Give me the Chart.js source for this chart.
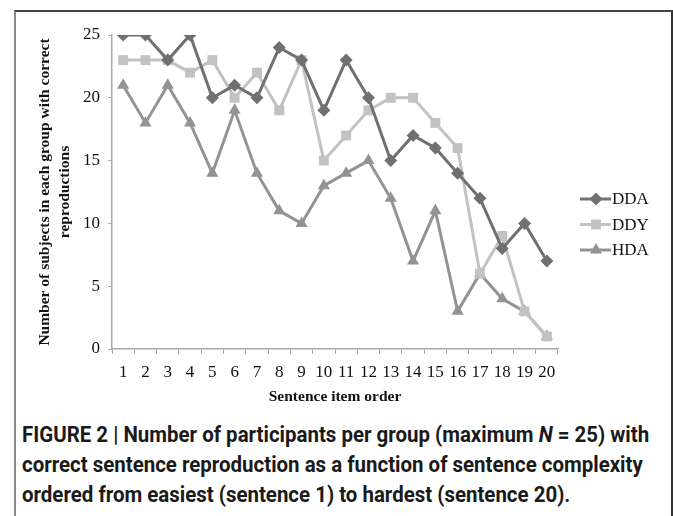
<!doctype html>
<html lang="en">
<head>
    <meta charset="UTF-8">
    <script src="https://cdn.jsdelivr.net/npm/chart.js"></script>
    <title>Figure 2</title>
    <style>
        html, body { margin: 0; padding: 0; background: #fff; }
        body { width: 673px; height: 516px; position: relative; overflow: hidden; }
        .page {
            position: absolute; left: 14px; top: 10px; width: 659px; height: 530px;
            box-sizing: border-box;
            border-left: 2px solid #8a8a8a; border-top: 2px solid #444; border-right: 2px solid #333;
        }
        .box { position: absolute; left: 0; top: 0; width: 654px; height: 398px; }
        .caption {
            position: absolute; left: 6px; top: 408px;
            font-family: "Liberation Sans Narrow", "Roboto", sans-serif; font-weight: bold;
            font-size: 22px; line-height: 30px; color: #1a1a1a; white-space: nowrap;
            transform: scaleX(0.93); transform-origin: 0 0;
        }
    </style>
</head>
<body>
<div class="page">
    <div class="box"><canvas id="chart" width="654" height="398"></canvas></div>
    <div class="caption">
        FIGURE 2 | Number of participants per group (maximum <i>N</i> = 25) with<br>
        correct sentence reproduction as a function of sentence complexity<br>
        ordered from easiest (sentence 1) to hardest (sentence 20).
    </div>
</div>
<script>
const sentences = ['1','2','3','4','5','6','7','8','9','10','11','12','13','14','15','16','17','18','19','20'];
const dda = [25, 25, 23, 25, 20, 21, 20, 24, 23, 19, 23, 20, 15, 17, 16, 14, 12, 8, 10, 7];
const ddy = [23, 23, 23, 22, 23, 20, 22, 19, 23, 15, 17, 19, 20, 20, 18, 16, 6, 9, 3, 1];
const hda = [21, 18, 21, 18, 14, 19, 14, 11, 10, 13, 14, 15, 12, 7, 11, 3, 6, 4, 3, 1];
const yTicks = [0, 5, 10, 15, 20, 25];

const serif = '"Liberation Serif", "DejaVu Serif", serif';

function series(label, data, color, style, radius) {
    return {
        label, data,
        borderColor: color, backgroundColor: color,
        borderWidth: 3,
        pointStyle: style, pointRadius: radius,
        pointBorderWidth: 0, pointHoverRadius: radius,
        tension: 0
    };
}

// legend drawn as line + marker, like the office chart
const lineLegend = {
    id: 'lineLegend',
    afterDraw(chart) {
        const ctx = chart.ctx;
        const area = chart.chartArea;
        const x0 = area.right + 22;
        let y = (area.top + area.bottom) / 2 + 7;
        ctx.save();
        chart.data.datasets.forEach(ds => {
            ctx.strokeStyle = ds.borderColor;
            ctx.lineWidth = 3;
            ctx.beginPath();
            ctx.moveTo(x0, y);
            ctx.lineTo(x0 + 31, y);
            ctx.stroke();
            ctx.fillStyle = ds.backgroundColor;
            Chart.helpers.drawPoint(ctx, {pointStyle: ds.pointStyle, radius: ds.pointRadius, borderWidth: 0}, x0 + 16, y);
            ctx.fillStyle = '#111';
            ctx.font = '17px ' + serif;
            ctx.textBaseline = 'middle';
            ctx.fillText(ds.label, x0 + 32, y + 1);
            y += 25.5;
        });
        ctx.restore();
    }
};

new Chart(document.getElementById('chart').getContext('2d'), {
    type: 'line',
    data: {
        labels: sentences,
        datasets: [
            series('DDA', dda, '#707070', 'rectRot', 6.5),
            series('DDY', ddy, '#c2c2c2', 'rect', 7),
            series('HDA', hda, '#939393', 'triangle', 7)
        ]
    },
    options: {
        responsive: false,
        animation: false,
        events: [],
        layout: { padding: { left: 13, right: 112, top: 23, bottom: 0 } },
        plugins: { legend: { display: false }, tooltip: { enabled: false } },
        scales: {
            x: {
                offset: true,
                grid: { offset: true, drawOnChartArea: false, color: '#a8a8a8', tickLength: 5 },
                border: { color: '#a8a8a8', width: 1.5 },
                ticks: { color: '#111', font: { family: serif, size: 17 }, padding: 8, maxRotation: 0, autoSkip: false },
                title: { display: true, text: 'Sentence item order', color: '#111',
                         font: { family: serif, size: 15.5, weight: 'bold' }, padding: { top: 4 } },
                afterFit(scale) { scale.height = 61; }
            },
            y: {
                min: 0, max: 25,
                afterBuildTicks(scale) { scale.ticks = yTicks.map(v => ({value: v})); },
                grid: { drawOnChartArea: false, color: '#a8a8a8', tickLength: 4 },
                border: { color: '#a8a8a8', width: 1.5 },
                ticks: { color: '#111', font: { family: serif, size: 17 }, padding: 8 },
                title: { display: true, text: ['Number of subjects in each group with correct', 'reproductions'],
                         color: '#111', font: { family: serif, size: 15.5, weight: 'bold', lineHeight: 1.3 },
                         padding: { top: 6 } },
                afterFit(scale) { scale.width = 83; }
            }
        }
    },
    plugins: [lineLegend]
});
</script>
</body>
</html>
